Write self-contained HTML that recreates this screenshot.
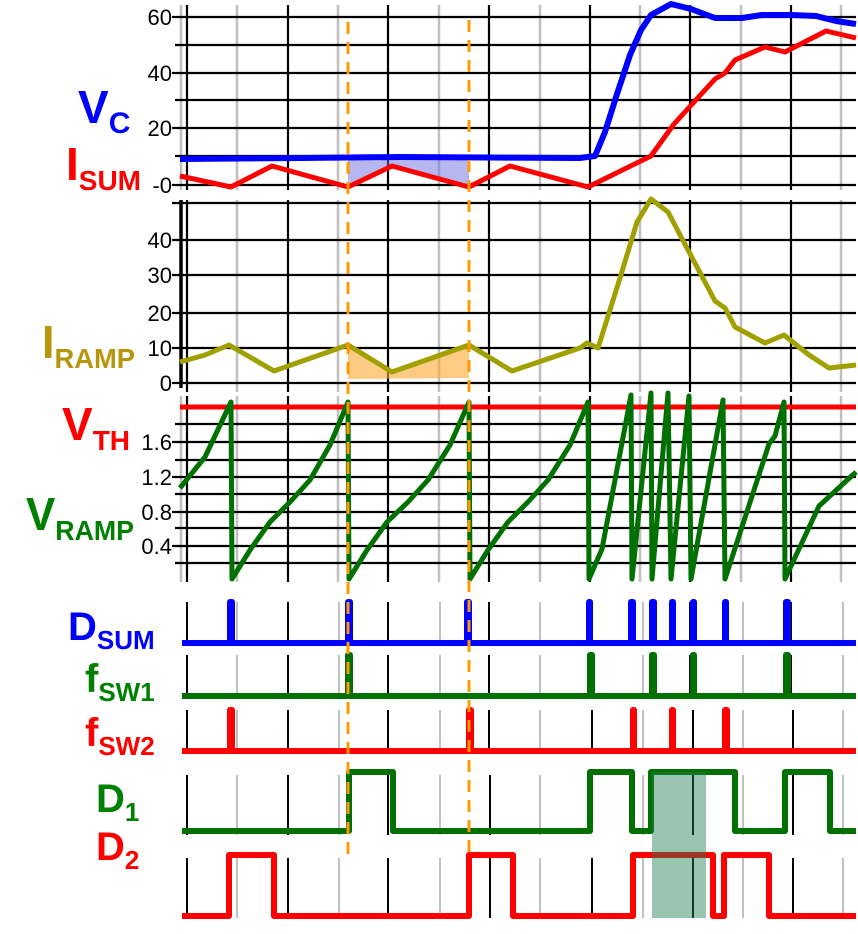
<!DOCTYPE html><html><head><style>body{margin:0;background:#fff}svg{display:block}</style></head><body>
<svg width="858" height="934" viewBox="0 0 858 934" xmlns="http://www.w3.org/2000/svg" font-family="Liberation Sans, Arial, sans-serif">
<g id="grid">
<g stroke="#c0c0c0" stroke-width="2.5">
<line x1="181" y1="5" x2="181" y2="190"/><line x1="181" y1="396" x2="181" y2="582"/>
<path d="M237 5V190M338 5V190M439 5V190M540 5V190M640 5V190M741 5V190M841 5V190"/>
<path d="M237 200V392M338 200V392M439 200V392M540 200V392M640 200V392M741 200V392M841 200V392"/>
<path d="M237 396V582M338 396V582M439 396V582M540 396V582M640 396V582M741 396V582M841 396V582"/>
</g>
<g stroke="#000" stroke-width="2.2">
<path d="M187 5V190M288 5V190M388 5V190M489 5V190M590 5V190M690 5V190M791 5V190"/>
<path d="M187 200V392M288 200V392M388 200V392M489 200V392M590 200V392M690 200V392M791 200V392"/>
<path d="M187 396V582M288 396V582M388 396V582M489 396V582M590 396V582M690 396V582M791 396V582"/>
<line x1="181" y1="200" x2="181" y2="388" stroke-width="3.5"/>
<path d="M172 17H856M175 45H856M172 73H856M175 100H856M172 128H856M175 156H856M172 185H856"/>
<path d="M172 203H856M172 240H856M172 275H856M172 313H856M172 348H856M172 383H856"/>
<path d="M175 424H856M172 442H856M175 460H856M172 477H856M175 494H856M172 512H856M175 528H856M172 546H856M175 563H856"/>
</g>
<g stroke-width="2">
<g stroke="#000"><path d="M187 602V643M288 602V643M388 602V643M489 602V643M590 602V643M690 602V643M791 602V643"/>
<path d="M187 655V696M288 655V696M388 655V696M489 655V696M590 655V696M690 655V696M791 655V696"/>
<path d="M187 710V751M288 710V751M388 710V751M489 710V751M592 710V751M693 710V751M793 710V751"/>
<path d="M187 775V835M288 775V835M388 775V835M490 775V835M693 775V835M793 775V835"/>
<path d="M187 858V918M288 858V918M388 858V918M490 858V918M592 858V918M693 858V918M793 858V918"/></g>
<g stroke="#c0c0c0"><path d="M237 602V643M339 602V643M440 602V643M540 602V643M643 602V643M743 602V643M843 602V643"/>
<path d="M237 655V696M339 655V696M440 655V696M540 655V696M643 655V696M743 655V696M843 655V696"/>
<path d="M237 710V751M339 710V751M440 710V751M540 710V751M643 710V751M743 710V751M843 710V751"/>
<path d="M237 775V835M339 775V835M440 775V835M540 775V835M643 775V835M743 775V835M843 775V835"/>
<path d="M237 858V918M339 858V918M440 858V918M540 858V918M643 858V918M743 858V918M843 858V918"/></g>
</g>
</g>
<g font-size="22" fill="#000" text-anchor="end">
<text x="172" y="25">60</text><text x="172" y="81">40</text><text x="172" y="136">20</text><text x="172" y="193">-0</text>
<text x="172" y="248">40</text><text x="172" y="283">30</text><text x="172" y="321">20</text><text x="172" y="356">10</text><text x="172" y="391">0</text>
<text x="172" y="450">1.6</text><text x="172" y="485">1.2</text><text x="172" y="520">0.8</text><text x="172" y="554">0.4</text>
</g>
<polygon points="348,158 469,158 469,187 392,166 348,187" fill="#7070e0" opacity="0.5"/>
<polygon points="348,345 392,372 469,345 469,378 348,379" fill="#fca830" opacity="0.6"/>
<g fill="none" stroke-width="5" stroke-linejoin="round">
<polyline stroke="#0000ff" stroke-width="6" points="180,159 300,158 400,157 580,158 595,156 605,132 617,94 630,55 641,30 651,15 671,4 691,9 715,18 742,18 762,15 792,15 816,16 836,21 856,24"/>
<polyline stroke="#ff0000" points="180,176 231,187 272,166 348,187 392,166 469,187 510,166 588,187 651,156 674,124 715,79 725,73 735,60 765,47 785,52 826,31 856,38"/>
<polyline stroke="#a0a000" points="180,362 205,355 229,345 274,371 348,345 392,372 469,345 512,371 580,348 587,343 598,348 620,278 637,222 651,199 668,212 688,250 715,301 725,308 735,327 765,343 784,335 809,355 829,368 856,365"/>
<line x1="180" y1="407" x2="856" y2="407" stroke="#ff0000"/>
<polyline stroke="#007000" points="180,488 205,457 231,402 232,579 250,550 270,522 290,502 310,480 330,445 348,402 349,579 367,550 387,522 408,502 428,480 450,445 469,402 470,579 488,550 508,522 528,502 548,480 570,445 588,402 589,579 602,549 631,395 632,579 651,393 652,579 668,393 671,579 689,396 691,579 723,400 725,579 769,444 775,436 784,402 785,579 819,506 856,472"/>
<polyline stroke="#0000ff" stroke-width="6" points="182,643 230,643 230,602 232,602 232,643 348,643 348,602 350,602 350,643 467,643 467,602 469,602 469,643 589,643 589,602 590,602 590,643 631,643 631,602 633,602 633,643 652,643 652,602 654,602 654,643 672,643 672,602 673,602 673,643 693,643 693,602 694,602 694,643 725,643 725,602 726,602 726,643 786,643 786,602 788,602 788,643 856,643"/>
<polyline stroke="#007000" stroke-width="6" points="182,696 348,696 348,655 350,655 350,696 590,696 590,655 592,655 592,696 652,696 652,655 654,655 654,696 693,696 693,655 694,655 694,696 786,696 786,655 788,655 788,696 856,696"/>
<polyline stroke="#ff0000" stroke-width="6" points="182,751 230,751 230,710 232,710 232,751 469,751 469,710 471,710 471,751 633,751 633,710 634,710 634,751 672,751 672,710 673,710 673,751 725,751 725,710 727,710 727,751 856,751"/>
<polyline stroke="#007000" stroke-width="6" points="182,831 349,831 349,772 393,772 393,831 590,831 590,772 632,772 632,831 651,831 651,772 735,772 735,831 785,831 785,772 830,772 830,831 856,831"/>
<polyline stroke="#ff0000" stroke-width="6" points="182,916 229,916 229,855 274,855 274,916 469,916 469,855 513,855 513,916 633,916 633,855 713,855 713,916 724,916 724,855 769,855 769,916 856,916"/>
</g>
<rect x="652" y="772" width="54" height="146" fill="#207f50" opacity="0.45"/>
<g stroke="#ff9900" stroke-width="3" stroke-dasharray="12,8">
<line x1="348" y1="22" x2="348" y2="855"/><line x1="469" y1="20" x2="469" y2="855"/>
</g>
<g font-weight="bold">
<text x="78" y="123" font-size="46" fill="#0000ff">V<tspan font-size="30" dy="10">C</tspan></text>
<text x="66" y="180" font-size="46" fill="#ff0000">I<tspan font-size="28" dy="10">SUM</tspan></text>
<text x="42" y="358" font-size="46" fill="#b8960c" textLength="93" lengthAdjust="spacingAndGlyphs">I<tspan font-size="28" dy="10">RAMP</tspan></text>
<text x="62" y="440" font-size="46" fill="#ff0000">V<tspan font-size="28" dy="10">TH</tspan></text>
<text x="26" y="530" font-size="46" fill="#008000" textLength="108" lengthAdjust="spacingAndGlyphs">V<tspan font-size="28" dy="10">RAMP</tspan></text>
<text x="68" y="640" font-size="40" fill="#0000ff">D<tspan font-size="26" dy="9">SUM</tspan></text>
<text x="85" y="692" font-size="40" fill="#008000">f<tspan font-size="26" dy="9">SW1</tspan></text>
<text x="85" y="746" font-size="40" fill="#ff0000">f<tspan font-size="26" dy="9">SW2</tspan></text>
<text x="96" y="812" font-size="40" fill="#008000">D<tspan font-size="26" dy="9">1</tspan></text>
<text x="96" y="860" font-size="40" fill="#ff0000">D<tspan font-size="26" dy="9">2</tspan></text>
</g>
</svg></body></html>
